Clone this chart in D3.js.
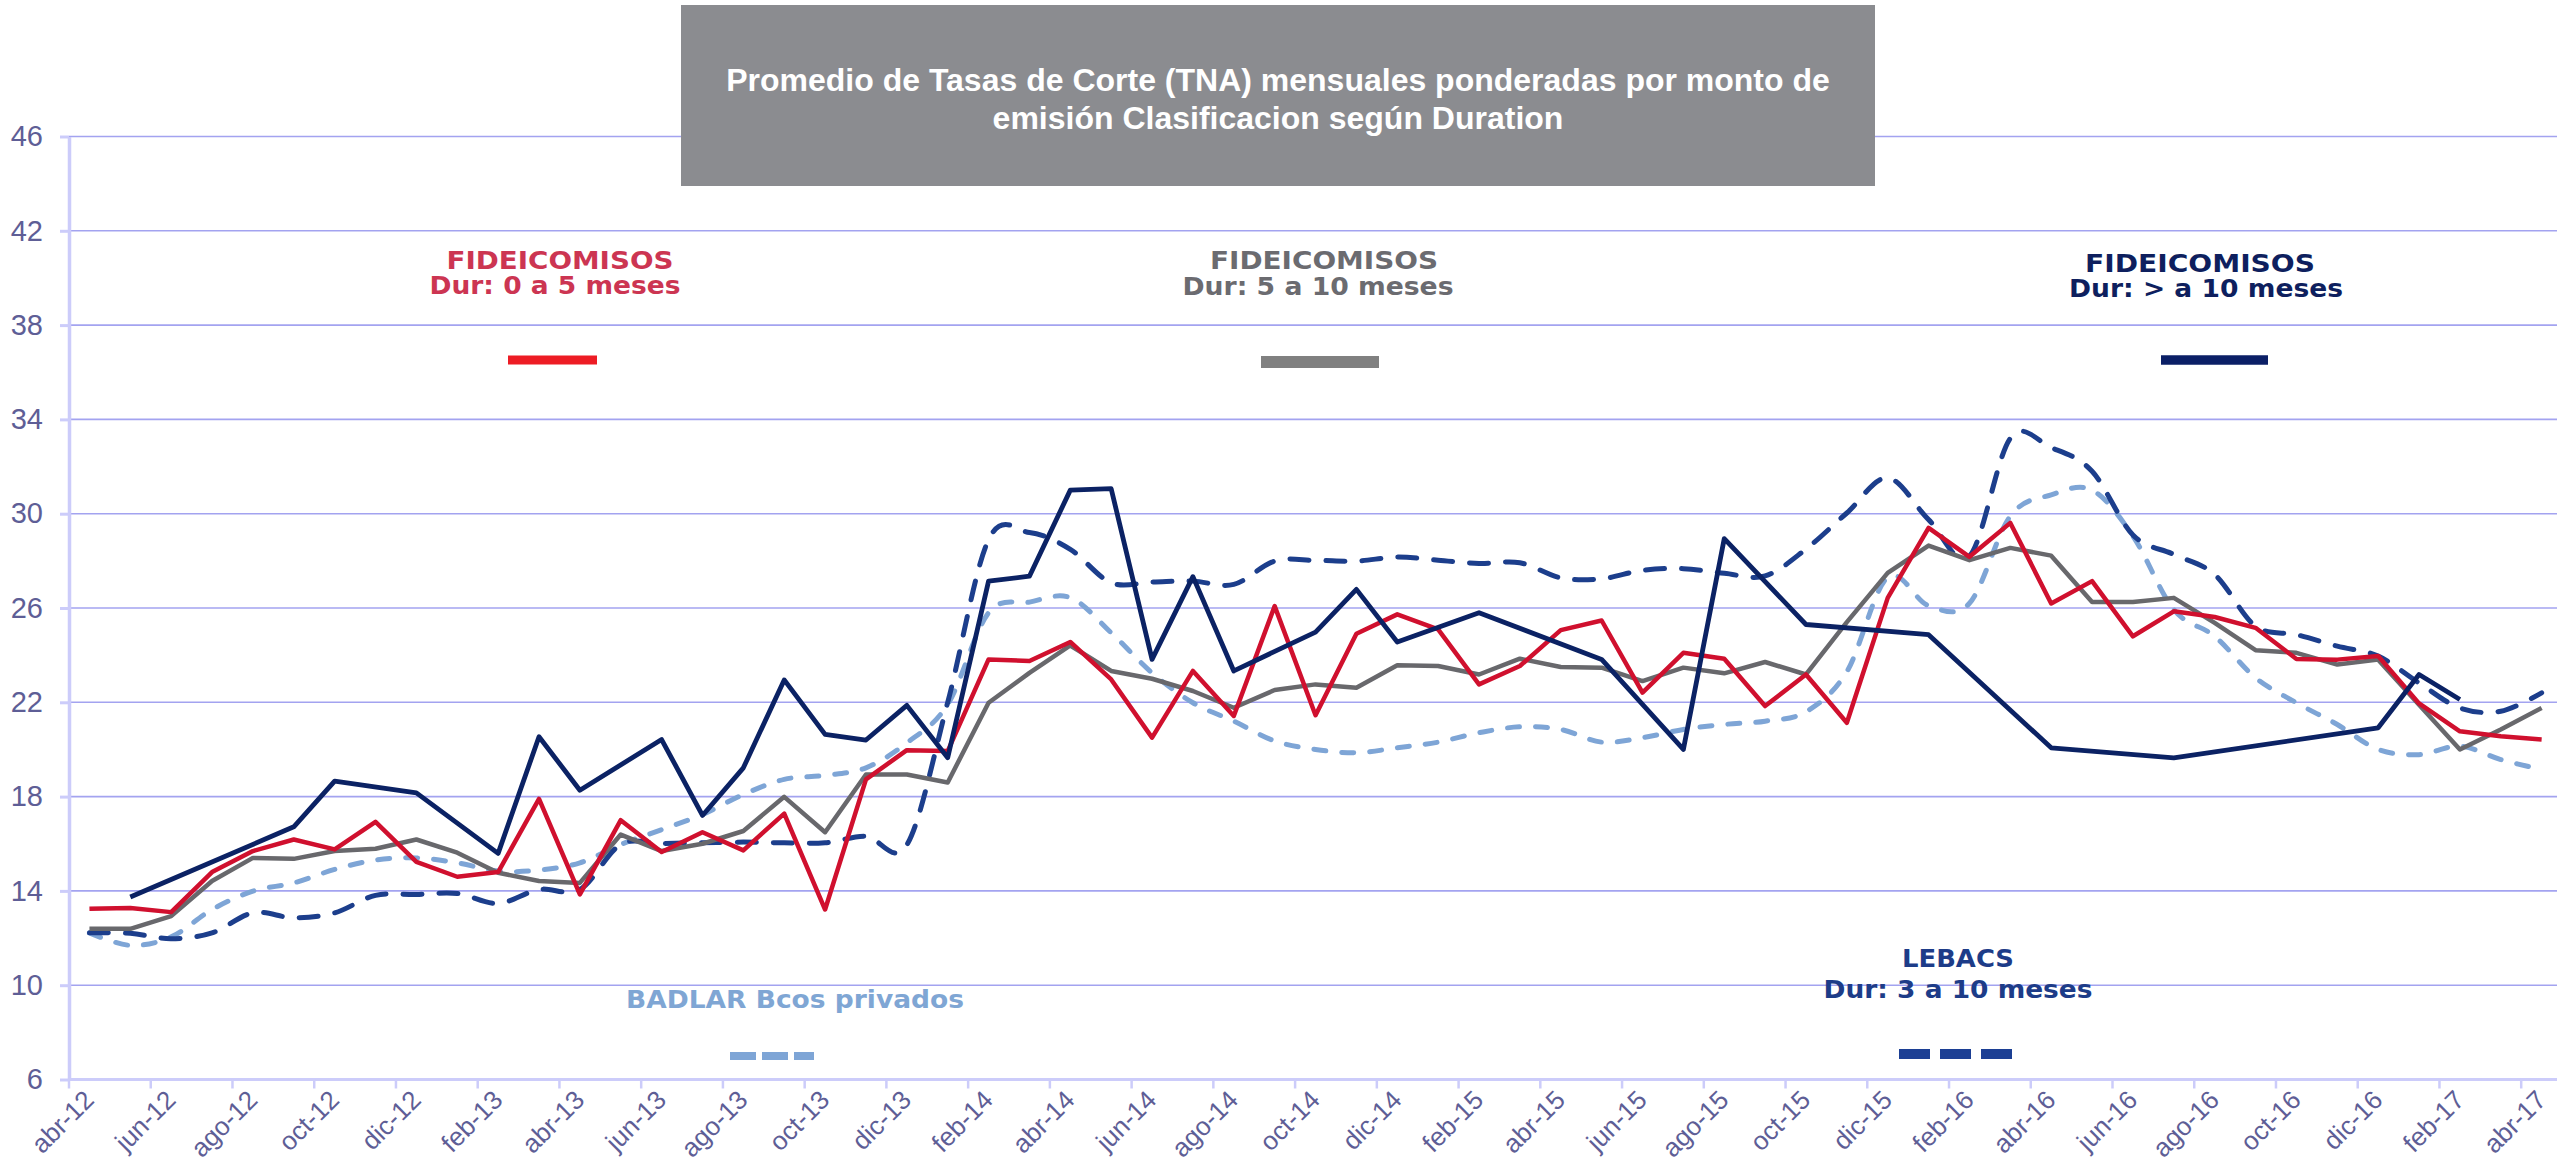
<!DOCTYPE html>
<html><head><meta charset="utf-8">
<script src="https://cdn.jsdelivr.net/npm/d3@7"></script>
<style>html,body{margin:0;padding:0;background:#fff;overflow:hidden}</style>
</head><body><svg id="c" width="2557" height="1166"></svg>
<script>
const categories = ["abr-12","may-12","jun-12","jul-12","ago-12","sep-12","oct-12","nov-12","dic-12","ene-13","feb-13","mar-13",
"abr-13","may-13","jun-13","jul-13","ago-13","sep-13","oct-13","nov-13","dic-13","ene-14","feb-14","mar-14",
"abr-14","may-14","jun-14","jul-14","ago-14","sep-14","oct-14","nov-14","dic-14","ene-15","feb-15","mar-15",
"abr-15","may-15","jun-15","jul-15","ago-15","sep-15","oct-15","nov-15","dic-15","ene-16","feb-16","mar-16",
"abr-16","may-16","jun-16","jul-16","ago-16","sep-16","oct-16","nov-16","dic-16","ene-17","feb-17","mar-17","abr-17"];

const fid0a5 = [13.24,13.27,13.1,14.8,15.69,16.18,15.76,16.93,15.23,14.6,14.8,17.9,
13.85,17.0,15.65,16.49,15.72,17.28,13.21,18.73,19.97,19.93,23.82,23.75,
24.56,22.97,20.5,23.33,21.42,26.08,21.45,24.91,25.73,25.09,22.76,23.54,
25.06,25.47,22.41,24.1,23.85,21.84,23.18,21.13,26.43,29.4,28.17,29.61,
26.19,27.14,24.8,25.86,25.62,25.16,23.84,23.81,23.96,21.95,20.77,20.56,20.42];

const fid5a10 = [12.39,12.39,12.93,14.42,15.4,15.36,15.69,15.79,16.18,15.62,14.77,14.42,
14.34,16.39,15.69,16.0,16.54,17.99,16.49,18.94,18.94,18.6,21.98,23.25,
24.41,23.33,23.0,22.48,21.77,22.52,22.76,22.62,23.57,23.54,23.18,23.85,
23.5,23.47,22.9,23.47,23.23,23.71,23.18,25.4,27.49,28.65,28.03,28.55,
28.22,26.25,26.25,26.43,25.37,24.21,24.1,23.6,23.81,21.9,20.0,20.85,21.76];

const fidMas10 = [null,13.74,null,null,null,16.72,18.66,null,18.16,null,15.59,20.54,
18.27,null,20.42,17.2,19.22,22.95,20.64,20.4,21.87,19.65,27.14,27.35,
31.0,31.06,23.82,27.33,23.33,null,24.98,26.79,24.56,null,25.8,null,
null,23.82,null,20.0,28.94,null,25.3,null,null,24.87,null,null,
20.07,null,null,19.64,null,null,null,null,20.92,23.18,22.12,null,null];

const lebacs = [12.22,12.2,11.97,12.22,13.07,12.86,13.07,13.81,13.85,13.89,13.47,14.06,
14.06,15.97,16.01,16.04,16.07,16.04,16.04,16.32,15.95,22.0,28.9,29.2,
28.49,27.07,27.1,27.14,27.0,27.99,28.02,27.99,28.16,28.03,27.89,27.92,
27.28,27.24,27.6,27.67,27.47,27.36,28.5,30.03,31.52,29.75,28.2,33.2,
32.8,31.8,29.1,28.27,27.42,25.23,24.87,24.38,23.96,22.82,21.76,21.62,22.4];

const badlar = [12.22,11.69,12.05,13.21,13.99,14.34,14.91,15.31,15.4,15.19,14.84,14.88,
15.19,15.97,16.6,17.24,18.09,18.73,18.9,19.22,20.28,21.91,25.8,26.25,
26.44,24.95,23.25,21.98,21.2,20.36,20.0,19.86,20.07,20.31,20.71,20.96,
20.85,20.31,20.5,20.85,21.06,21.2,21.6,23.3,27.3,26.1,26.2,29.9,
30.8,31.0,29.05,25.93,24.8,23.04,21.98,21.06,20.0,19.78,20.14,19.57,19.15];

const yTicks = [6,10,14,18,22,26,30,34,38,42,46];
const xTickLabels = categories.filter((c,i)=>i%2===0);

const titleLines = ["Promedio de Tasas de Corte (TNA) mensuales ponderadas por monto de",
                    "emisión Clasificacion según Duration"];

const svg = d3.select("#c");
const W = 2557;
const x = d3.scaleBand().domain(categories).range([69, 69 + 61*40.87]).paddingInner(0).paddingOuter(0);
const y = d3.scaleLinear().domain([6,46]).range([1079.5,136.5]);
const cx = c => x(c) + x.bandwidth()/2;

// gridlines
svg.append("g").selectAll("line").data(yTicks.filter(t=>t>6)).join("line")
  .attr("x1",69).attr("x2",W).attr("y1",d=>y(d)).attr("y2",d=>y(d))
  .attr("stroke","#A3A3F0").attr("stroke-width",1.6);

// y axis
const gy = svg.append("g").attr("transform","translate(69,0)")
  .call(d3.axisLeft(y).tickValues(yTicks).tickSize(9).tickSizeOuter(0).tickPadding(17));
gy.select(".domain").attr("stroke","#CCCCFA").attr("stroke-width",3.5);
gy.selectAll(".tick line").attr("stroke","#CCCCFA").attr("stroke-width",3);
gy.selectAll(".tick text").attr("fill","#5E5E96").attr("font-family","'Liberation Sans', Arial, sans-serif").attr("font-size",29);

// x axis baseline
svg.append("line").attr("x1",69).attr("x2",W).attr("y1",y(6)).attr("y2",y(6))
  .attr("stroke","#CCCCFA").attr("stroke-width",3);
// x tick marks at category boundaries (every 2 months)
svg.append("g").selectAll("line").data(xTickLabels).join("line")
  .attr("x1",d=>x(d)).attr("x2",d=>x(d)).attr("y1",y(6)).attr("y2",y(6)+9)
  .attr("stroke","#CCCCFA").attr("stroke-width",2.5);
// x labels
const gx = svg.append("g").attr("transform",`translate(0,${y(6)})`)
  .call(d3.axisBottom(x).tickValues(xTickLabels).tickSize(0));
gx.select(".domain").remove();
gx.selectAll(".tick text")
  .attr("fill","#5E5E96").attr("font-family","'Liberation Sans', Arial, sans-serif").attr("font-size",26)
  .attr("x",0).attr("y",0).attr("dy",null).attr("text-anchor","end")
  .attr("transform","translate(6,22) rotate(-45)");

// series
const pts = arr => categories.map((c,i)=>({c, v: arr[i]})).filter(d=>d.v!=null);
const straight = d3.line().x(d=>cx(d.c)).y(d=>y(d.v));
const smooth = d3.line().x(d=>cx(d.c)).y(d=>y(d.v)).curve(d3.curveCardinal.tension(0));

const g = svg.append("g").attr("fill","none").attr("stroke-linejoin","round");
g.append("path").attr("d",smooth(pts(badlar))).attr("stroke","#7EA5D6").attr("stroke-width",5)
  .attr("stroke-dasharray","12,16").attr("stroke-linecap","round");
g.append("path").attr("d",smooth(pts(lebacs))).attr("stroke","#1C3E8C").attr("stroke-width",5)
  .attr("stroke-dasharray","19,17").attr("stroke-linecap","round");
g.append("path").attr("d",straight(pts(fid5a10))).attr("stroke","#68686C").attr("stroke-width",4.5);
g.append("path").attr("d",straight(pts(fid0a5))).attr("stroke","#D0102E").attr("stroke-width",4.5);
g.append("path").attr("d",straight(pts(fidMas10))).attr("stroke","#0B2264").attr("stroke-width",4.8);

// title box
svg.append("rect").attr("x",681).attr("y",5).attr("width",1194).attr("height",181).attr("fill","#8B8C90");
svg.append("g").selectAll("text").data(titleLines).join("text")
  .attr("x",1278).attr("y",(d,i)=>91+i*38).attr("text-anchor","middle")
  .attr("fill","#fff").attr("font-family","'Liberation Sans', Arial, sans-serif")
  .attr("font-weight","bold").attr("font-size",32).text(d=>d);

// legend labels
const legendText = [
  {t:"FIDEICOMISOS", x:560, y:269, w:227, c:"#CC3552"},
  {t:"Dur: 0 a 5 meses", x:555, y:294, w:251, c:"#CC3552"},
  {t:"FIDEICOMISOS", x:1324, y:269, w:228, c:"#6B6B70"},
  {t:"Dur: 5 a 10 meses", x:1318, y:295, w:271, c:"#6B6B70"},
  {t:"FIDEICOMISOS", x:2200, y:272, w:230, c:"#0E1F5E"},
  {t:"Dur: > a 10 meses", x:2206, y:297, w:274, c:"#0E1F5E"},
  {t:"LEBACS", x:1958, y:967, w:112, c:"#1D3C88"},
  {t:"Dur: 3 a 10 meses", x:1958, y:998, w:269, c:"#1D3C88"},
  {t:"BADLAR Bcos privados", x:795, y:1008, w:338, c:"#7FA6D4"}
];
svg.append("g").selectAll("text").data(legendText).join("text")
  .attr("x",d=>d.x).attr("y",d=>d.y).attr("text-anchor","middle")
  .attr("fill",d=>d.c).attr("font-family","'DejaVu Sans', Verdana, sans-serif")
  .attr("font-weight","bold").attr("font-size",25)
  .attr("textLength",d=>d.w).attr("lengthAdjust","spacingAndGlyphs").text(d=>d.t);

// legend swatches
const sw = [
  {x1:508,x2:597,y:360,w:9,c:"#ED1C24",dash:null},
  {x1:1261,x2:1379,y:362,w:12,c:"#808080",dash:null},
  {x1:2161,x2:2268,y:360,w:9.5,c:"#0B1F66",dash:null},
  {x1:1899,x2:2012,y:1054,w:10,c:"#1C3F94",dash:"31,10"},
  {x1:730,x2:814,y:1056,w:8,c:"#7EA5D6",dash:"26,6"}
];
svg.append("g").selectAll("line").data(sw).join("line")
  .attr("x1",d=>d.x1).attr("x2",d=>d.x2).attr("y1",d=>d.y).attr("y2",d=>d.y)
  .attr("stroke",d=>d.c).attr("stroke-width",d=>d.w).attr("stroke-dasharray",d=>d.dash);
</script></body></html>
